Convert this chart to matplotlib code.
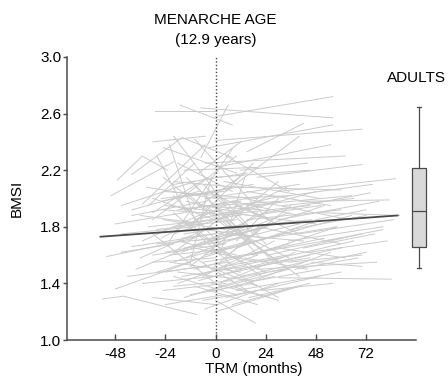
"""
BMSI trajectories around menarche, with adult reference boxplot
"""
import matplotlib
matplotlib.use('Agg')
import matplotlib.pyplot as plt

plt.rcParams['font.family'] = ['Liberation Sans', 'DejaVu Sans']

# individual trajectories (straight segments): start month, start BMSI, end month, end BMSI
seg_x0 = [-29, 0, -7, -17, -7, 0, -3, 15, -30, -25, -20, -10, 5, -5, 0, -50, -35, -15, 20, 30,
          0, -20, -45, 5, 25, 15, 40, -30, -22, -12, -5, 10, -25, -40, -52, -48, -45, -40, -38, -48,
          -42, -35, -30, -28, -25, -20, -18, -15, -25, -30, -20, -10, 0, -5, 0, 5, 10, 30, 20, 15,
          0, -10, -5, 5, 25, 35, 40, 20, 10, 0, -15, -20, -10, 0, 15, 30, -35, -30, -25, -15,
          -10, -5, -20, -30, -12, -8, 0, 5, 10, 15, 20, 30, 35, 45, 50, -22, -18, -8, -3, 8,
          -28, -24, -16, -6, 2, 6, 12, 18, 22, 26, -40, -33, -26, -14, -4, 4, 14, 24, -36, -20,
          -12, -6, 2, -2, 8, -45, -32, -18, -8, 12, 3, -15, 16, -24, 0, -22, -12, 2, -28,
          -20, -15, -10, -5, -25, -18, -8, -28, -22, -14, -6, 4, -30, -24, -16, -4, 10, -2, 6, 12,
          -26, -12, 2, -20, -8, 0, 18, 25, 20, 28, 14, -10, -18, -32, -36, -24, -14, 8, 16, 32,
          36, 42, 38, 0, -12, -20, 4, 12, 20, -6, -16, -4, -26, -30, -10, 6, -2, 10, -14, -6,
          0, -20, 4, 14, -2, 8, 22, 46, 52, 48]
seg_y0 = [2.62, 2.58, 2.64, 2.66, 2.29, 2.41, 2.36, 2.33, 2.40, 2.36, 2.44, 2.42, 2.05, 2.25, 2.22, 2.02, 1.96, 2.20, 2.15, 2.05,
          2.15, 2.10, 1.95, 2.30, 2.00, 1.95, 1.98, 1.85, 1.70, 1.80, 2.00, 2.08, 2.05, 1.88, 1.59, 1.82, 1.75, 1.66, 1.50, 1.36,
          1.45, 1.40, 1.60, 1.78, 1.92, 1.55, 1.40, 1.30, 1.35, 1.30, 1.45, 1.38, 1.28, 1.22, 1.20, 1.30, 1.35, 1.44, 1.50, 1.40,
          1.45, 1.50, 1.60, 1.58, 1.60, 1.70, 1.75, 1.70, 1.65, 1.70, 1.65, 1.75, 1.85, 1.88, 1.85, 1.85, 1.70, 2.00, 2.15, 2.05,
          2.10, 1.95, 1.90, 1.75, 1.60, 1.75, 1.55, 1.80, 1.95, 2.05, 1.80, 1.65, 1.55, 1.62, 1.90, 1.55, 1.48, 1.42, 1.35, 1.25,
          1.48, 1.62, 1.72, 1.68, 1.75, 1.90, 1.75, 1.60, 1.55, 1.48, 1.92, 2.08, 1.98, 1.92, 2.05, 2.12, 2.00, 1.90, 1.58, 1.62,
          1.52, 1.45, 1.40, 1.82, 1.85, 1.62, 1.95, 2.25, 2.18, 2.20, 1.62, 1.85, 1.30, 1.25, 1.50, 2.38, 1.55, 1.60, 2.30,
          1.80, 1.75, 1.70, 1.78, 1.85, 1.92, 1.95, 1.68, 1.60, 1.58, 1.55, 1.52, 1.55, 1.48, 1.45, 1.48, 1.50, 1.62, 1.70, 1.80,
          2.00, 2.02, 2.00, 2.12, 1.88, 1.95, 1.88, 1.72, 1.62, 1.55, 1.58, 1.65, 1.70, 1.80, 1.88, 1.95, 1.98, 1.98, 1.92, 1.95,
          1.78, 1.65, 1.50, 1.35, 1.32, 1.38, 1.42, 1.45, 1.42, 1.28, 1.62, 1.70, 1.72, 1.90, 1.92, 1.60, 1.50, 1.70, 2.15, 2.10,
          2.05, 2.02, 1.88, 1.72, 1.40, 1.38, 1.35, 1.55, 1.70, 1.85]
seg_x1 = [0, 56, 56, 8, 6, 70, 56, 42, -5, 10, 5, 25, 40, 62, 55, -20, -5, 20, 70, 86,
          45, 15, -10, 35, 75, 65, 83, 10, 8, 18, 40, 60, 20, -5, -10, -15, -10, 0, -5, -12,
          -5, 0, 5, 10, 12, 15, 20, 25, 5, 0, 10, 20, 19, 30, 40, 50, 60, 84, 77, 55,
          45, 35, 40, 60, 70, 80, 85, 65, 50, 35, 25, 20, 30, 45, 60, 78, -5, 0, 5, 15,
          20, 30, 10, 0, 15, 22, 30, 35, 40, 55, 60, 62, 70, 82, 88, 12, 18, 25, 35, 40,
          2, 10, 14, 28, 42, 48, 52, 58, 66, 72, -8, 0, 8, 22, 26, 50, 64, 74, -2, 8,
          20, 28, 38, 34, 30, -20, -10, 8, 12, 44, 24, 5, 45, 4, 20, -10, -2, 14, -14,
          10, 15, 20, 25, 5, 12, 22, 2, 8, 16, 24, 34, 0, 6, 14, 30, 45, 32, 40, 46,
          4, 18, 36, 10, 26, 30, 50, 58, 52, 60, 44, 20, 10, -2, -6, 6, 16, 40, 48, 66,
          72, 76, 68, 28, 18, 8, 32, 42, 50, 20, 14, 26, 4, -4, 14, 36, 22, 30, 10, 18,
          24, 2, 28, 40, 26, 30, 56, 70, 80, 72]
seg_y1 = [2.62, 2.72, 2.57, 2.52, 2.66, 2.49, 2.52, 2.53, 2.44, 2.18, 1.95, 1.85, 2.44, 2.30, 2.38, 2.26, 2.38, 2.22, 2.24, 2.14,
          2.20, 2.18, 2.12, 2.05, 2.10, 2.02, 1.99, 2.30, 2.35, 2.25, 2.10, 2.06, 2.00, 1.98, 1.72, 1.90, 1.80, 1.75, 1.70, 1.55,
          1.52, 1.45, 1.68, 1.85, 1.88, 1.75, 1.60, 1.48, 1.40, 1.25, 1.32, 1.25, 1.12, 1.40, 1.38, 1.45, 1.48, 1.43, 1.55, 1.62,
          1.60, 1.68, 1.78, 1.72, 1.75, 1.80, 1.85, 1.88, 1.85, 1.90, 1.80, 1.95, 1.98, 1.95, 1.92, 1.98, 1.90, 1.85, 1.80, 1.70,
          1.60, 1.55, 1.50, 1.40, 1.35, 1.45, 1.30, 1.58, 1.75, 1.95, 1.68, 1.58, 1.60, 1.70, 1.88, 1.48, 1.42, 1.55, 1.50, 1.38,
          1.62, 1.72, 1.78, 1.82, 1.70, 1.82, 1.95, 1.80, 1.70, 1.62, 2.05, 2.00, 2.08, 2.02, 1.85, 2.00, 1.85, 2.04, 1.80, 1.92,
          1.90, 1.70, 1.62, 2.08, 2.12, 1.68, 2.25, 2.05, 2.40, 2.25, 1.48, 1.62, 1.40, 1.32, 1.38, 1.85, 2.15, 2.15, 1.90,
          1.88, 1.82, 1.78, 1.72, 1.78, 1.98, 1.92, 1.72, 1.65, 1.70, 1.62, 1.60, 1.58, 1.55, 1.52, 1.58, 1.58, 1.75, 1.82, 1.85,
          2.05, 2.10, 2.02, 2.08, 2.00, 1.98, 1.95, 1.80, 1.72, 1.65, 1.50, 1.55, 1.60, 1.85, 1.82, 1.90, 1.88, 1.88, 2.05, 2.00,
          1.88, 1.75, 1.58, 1.45, 1.40, 1.42, 1.50, 1.55, 1.50, 1.35, 1.80, 1.92, 1.95, 2.15, 2.18, 1.95, 1.80, 2.00, 1.80, 1.75,
          1.68, 1.68, 1.55, 1.45, 1.30, 1.28, 1.40, 1.52, 1.78, 1.92]

# trajectories with a visible kink
kink_x = [[-40, -16, 8], [-47, -35, -23], [-54, -44, -9]]
kink_y = [[2.17, 2.43, 2.29], [2.13, 2.30, 2.20], [1.29, 1.31, 1.18]]

# mean trend line
reg_x = [-55, 87]
reg_y = [1.73, 1.88]

# adult reference distribution
adult_whislo, adult_q1, adult_med, adult_q3, adult_whishi = 1.507, 1.657, 1.91, 2.215, 2.65

line_grey = '#cbcbcb'
dark = '#4a4a4a'

fig = plt.figure(figsize=(4.48, 3.83), dpi=100)
ax = fig.add_axes([67 / 448, 43 / 383, (440 - 67) / 448, 283 / 383])

for x0, y0, x1, y1 in zip(seg_x0, seg_y0, seg_x1, seg_y1):
    ax.plot([x0, x1], [y0, y1], color=line_grey, linewidth=0.7, zorder=1)
for kx, ky in zip(kink_x, kink_y):
    ax.plot(kx, ky, color=line_grey, linewidth=0.7, zorder=1)

ax.plot(reg_x, reg_y, color=dark, linewidth=1.3, zorder=3)
ax.plot([0, 0], [1.0, 3.0], color=dark, linestyle=(0, (1, 1.5)), linewidth=1.0, zorder=2)

stats = [dict(med=adult_med, q1=adult_q1, q3=adult_q3, whislo=adult_whislo, whishi=adult_whishi, fliers=[])]
ax.bxp(stats, positions=[97.3], widths=[6.7], capwidths=[1.6], patch_artist=True,
       manage_ticks=False,
       boxprops=dict(facecolor='#d9d9d9', edgecolor=dark, linewidth=0.9),
       medianprops=dict(color=dark, linewidth=0.9),
       whiskerprops=dict(color=dark, linewidth=0.9),
       capprops=dict(color=dark, linewidth=0.9))

ax.set_xlim(-71, 107.3)
ax.set_ylim(1.0, 3.0)
ax.set_xticks([-48, -24, 0, 24, 48, 72])
ax.set_yticks([1.0, 1.4, 1.8, 2.2, 2.6, 3.0])
ax.xaxis.set_major_formatter(plt.FuncFormatter(lambda v, p: f'{v:.0f}'.replace('\u2212', '-')))
ax.yaxis.set_major_formatter(plt.FuncFormatter(lambda v, p: f'{v:.1f}'))

for side in ['top', 'right']:
    ax.spines[side].set_visible(False)
for side in ['left', 'bottom']:
    ax.spines[side].set_color(dark)
    ax.spines[side].set_linewidth(1.1)
ax.spines['bottom'].set_bounds(-71, 96)
ax.tick_params(axis='x', direction='in', length=4, width=1, color=dark, labelsize=11, pad=5)
ax.tick_params(axis='y', direction='out', length=3, width=1, color=dark, labelsize=11, pad=1)

ax.set_xlabel('TRM (months)', fontsize=11, labelpad=1)
ax.set_ylabel('BMSI', fontsize=11, labelpad=12)

fig.text(215.5 / 448, 1 - 20 / 383, 'MENARCHE AGE', ha='center', va='center', fontsize=11)
fig.text(215.5 / 448, 1 - 40 / 383, '(12.9 years)', ha='center', va='center', fontsize=11)
fig.text(387 / 448, 1 - 78 / 383, 'ADULTS', ha='left', va='center', fontsize=11)

fig.savefig('out.png', dpi=100, facecolor='white')
plt.close(fig)
